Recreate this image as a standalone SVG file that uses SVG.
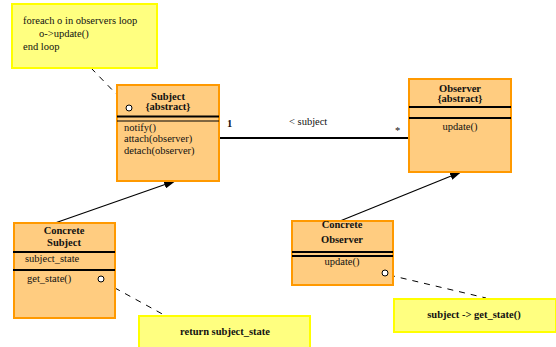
<svg xmlns="http://www.w3.org/2000/svg" width="556" height="347" viewBox="0 0 556 347">
<style>
text{font-family:"Liberation Serif","Times New Roman",serif;font-size:10.5px;fill:#111}
.b{font-weight:bold}
.cls{fill:#ffcc80;stroke:#ff9900;stroke-width:2}
.note{fill:#ffff80;stroke:#ffff00;stroke-width:2}
.sep{stroke:#000;stroke-width:2}
.dash{stroke:#000;stroke-width:1;stroke-dasharray:6,6;fill:none}
.ln{stroke:#000;stroke-width:1.2;fill:none}
.port{fill:#fff;stroke:#000;stroke-width:1}
</style>
<defs>
<marker id="ah" markerWidth="12" markerHeight="8" refX="11" refY="4" orient="auto" markerUnits="userSpaceOnUse">
<path d="M0,0 L12,4 L0,8 Z" fill="#000"/>
</marker>
</defs>
<g id="connectors">
<line class="dash" x1="91" y1="68" x2="125" y2="103"/>
<line x1="219" y1="138" x2="409" y2="138" stroke="#000" stroke-width="2"/>
<line class="ln" x1="55" y1="223" x2="175" y2="181" marker-end="url(#ah)"/>
<line class="ln" x1="340" y1="221" x2="461" y2="172" marker-end="url(#ah)"/>
<line class="dash" x1="104" y1="282" x2="166" y2="316"/>
<line class="dash" x1="389" y1="275" x2="486" y2="298"/>
<text x="227" y="127" class="b">1</text>
<text x="289" y="125">&lt; subject</text>
<text x="395" y="134">*</text>
</g>
<g id="note1">
<rect class="note" x="12" y="4" width="145" height="64"/>
<text x="23" y="24">foreach o in observers loop</text>
<text x="39" y="37">o-&gt;update()</text>
<text x="23" y="50">end loop</text>
</g>
<g id="subject">
<rect class="cls" x="117" y="85" width="102" height="96"/>
<text x="168" y="100" text-anchor="middle" class="b">Subject</text>
<text x="168" y="110" text-anchor="middle" class="b">{abstract}</text>
<line class="sep" x1="117" y1="116.5" x2="219" y2="116.5"/>
<line x1="117" y1="121" x2="219" y2="121" stroke="#000" stroke-width="1"/>
<text x="124" y="131">notify()</text>
<text x="124" y="142">attach(observer)</text>
<text x="124" y="154">detach(observer)</text>
<circle class="port" cx="129" cy="108" r="3"/>
</g>
<g id="observer">
<rect class="cls" x="409" y="79" width="102" height="93"/>
<text x="460" y="92" text-anchor="middle" class="b">Observer</text>
<text x="460" y="102" text-anchor="middle" class="b">{abstract}</text>
<line class="sep" x1="409" y1="107" x2="511" y2="107"/>
<line class="sep" x1="409" y1="118" x2="511" y2="118"/>
<text x="460" y="130" text-anchor="middle">update()</text>
</g>
<g id="concrete-subject">
<rect class="cls" x="14" y="223" width="101" height="95"/>
<text x="64" y="234" text-anchor="middle" class="b">Concrete</text>
<text x="64" y="246" text-anchor="middle" class="b">Subject</text>
<line class="sep" x1="13" y1="252" x2="115" y2="252"/>
<text x="25" y="262">subject_state</text>
<line class="sep" x1="13" y1="270" x2="115" y2="270"/>
<text x="27" y="282">get_state()</text>
<circle class="port" cx="101" cy="279" r="3"/>
</g>
<g id="concrete-observer">
<rect class="cls" x="292" y="221" width="101" height="64"/>
<text x="342" y="228" text-anchor="middle" class="b">Concrete</text>
<text x="342" y="243" text-anchor="middle" class="b">Observer</text>
<line class="sep" x1="292" y1="252" x2="393" y2="252"/>
<line class="sep" x1="292" y1="256" x2="393" y2="256"/>
<text x="342" y="265" text-anchor="middle">update()</text>
<circle class="port" cx="385" cy="273" r="3"/>
</g>
<g id="note-getstate">
<rect class="note" x="394" y="299" width="162" height="33"/>
<text x="474" y="318" text-anchor="middle" class="b">subject -&gt; get_state()</text>
</g>
<g id="note-return">
<rect class="note" x="139" y="316" width="171" height="34"/>
<text x="225" y="335" text-anchor="middle" class="b">return subject_state</text>
</g>
</svg>
